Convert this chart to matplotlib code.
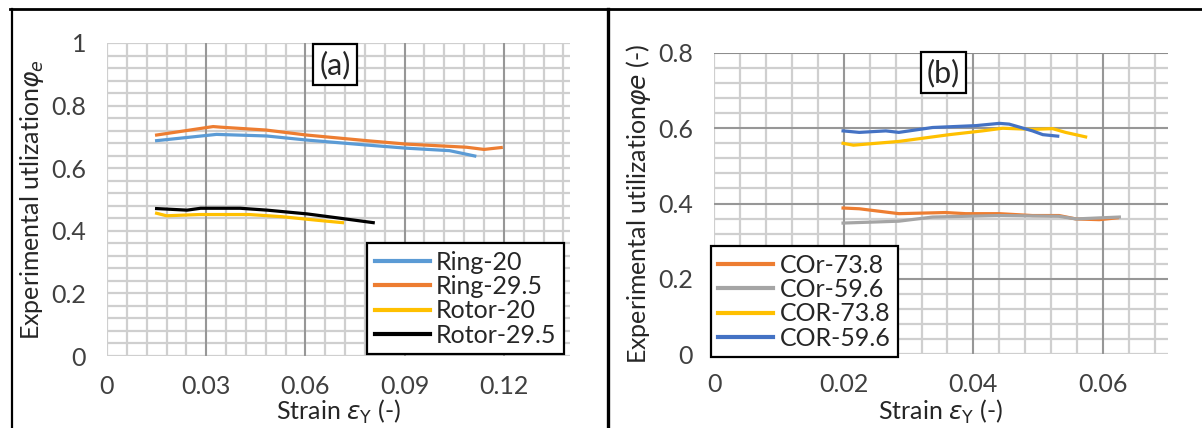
import matplotlib
matplotlib.use("Agg")
import matplotlib.pyplot as plt
from matplotlib.lines import Line2D
import numpy as np

plt.rcParams["font.family"] = ["Lato", "DejaVu Sans"]
plt.rcParams["mathtext.fontset"] = "dejavusans"

# ---------------------------------------------------------------------------
# Panel (a): ring vs rotor
# ---------------------------------------------------------------------------
ring20_x = [0.015, 0.0331, 0.0482, 0.0603, 0.0785, 0.0905, 0.1036, 0.1112]
ring20_y = [0.688, 0.708, 0.703, 0.690, 0.674, 0.664, 0.656, 0.639]

ring295_x = [0.015, 0.0321, 0.0345, 0.048, 0.0603, 0.0785, 0.0905, 0.1087, 0.114, 0.1192]
ring295_y = [0.706, 0.733, 0.731, 0.722, 0.706, 0.688, 0.677, 0.667, 0.660, 0.666]

rotor20_x = [0.015, 0.018, 0.028, 0.043, 0.053, 0.0632, 0.0712]
rotor20_y = [0.456, 0.448, 0.452, 0.452, 0.445, 0.434, 0.426]

rotor295_x = [0.015, 0.0242, 0.0283, 0.0403, 0.0484, 0.0605, 0.0706, 0.0805]
rotor295_y = [0.471, 0.466, 0.472, 0.472, 0.466, 0.454, 0.440, 0.426]

# ---------------------------------------------------------------------------
# Panel (b): COr vs COR
# ---------------------------------------------------------------------------
cor_r738_x = [0.0199, 0.0224, 0.0285, 0.0357, 0.0388, 0.044, 0.0491, 0.0532, 0.0558, 0.0594, 0.0622]
cor_r738_y = [0.388, 0.386, 0.373, 0.376, 0.373, 0.373, 0.368, 0.368, 0.359, 0.357, 0.362]

cor_r596_x = [0.0199, 0.0285, 0.0337, 0.044, 0.0532, 0.0558, 0.0625]
cor_r596_y = [0.348, 0.353, 0.364, 0.368, 0.366, 0.359, 0.364]

cor_R738_x = [0.0199, 0.0215, 0.0285, 0.0363, 0.0414, 0.0445, 0.0491, 0.0522, 0.0542, 0.0573]
cor_R738_y = [0.560, 0.555, 0.565, 0.583, 0.593, 0.600, 0.597, 0.599, 0.589, 0.577]

cor_R596_x = [0.0199, 0.0224, 0.0265, 0.0285, 0.0337, 0.0404, 0.044, 0.0455, 0.0491, 0.0507, 0.053]
cor_R596_y = [0.593, 0.589, 0.593, 0.589, 0.602, 0.607, 0.613, 0.611, 0.593, 0.583, 0.579]

BLUE = "#5B9BD5"
ORANGE = "#ED7D31"
YELLOW = "#FFC000"
GRAY = "#A5A5A5"
DBLUE = "#4472C4"
TXT = "#262626"

W, H = 1202, 428
fig = plt.figure(figsize=(W / 100, H / 100), dpi=100)


def px_axes(left, top, right, bottom):
    return fig.add_axes([left / W, 1 - bottom / H, (right - left) / W, (bottom - top) / H])


def style_grid(ax, xminor, xmajor, yminor, ymajor, dark_y):
    light = "#cfcfcf"
    dark = "#8c8c8c"
    x0, x1 = ax.get_xlim()
    y0, y1 = ax.get_ylim()
    for v in np.arange(x0, x1 + 1e-9, xminor):
        ax.axvline(v, color=light, lw=1.6, zorder=0)
    for v in np.arange(y0, y1 + 1e-9, yminor):
        ax.axhline(v, color=light, lw=1.6, zorder=0)
    for v in np.arange(x0 + xmajor, x1 + 1e-9, xmajor):
        ax.axvline(v, color=dark, lw=1.2, zorder=0.5)
    if dark_y:
        for v in np.arange(y0 + ymajor, y1 + 1e-9, ymajor):
            ax.axhline(v, color=dark, lw=1.2, zorder=0.5)
    for s in ax.spines.values():
        s.set_visible(False)
    ax.tick_params(length=0, labelsize=18, colors="#404040")
    ax.tick_params(axis="y", pad=15)
    ax.tick_params(axis="x", pad=14)


def add_legend(ax, loc, anchor):
    leg = ax.legend(loc=loc, bbox_to_anchor=anchor, borderaxespad=0,
                    fontsize=18, frameon=True, fancybox=False, handlelength=2.2,
                    labelspacing=0.05, handletextpad=0.25, borderpad=0.3)
    leg.get_frame().set_edgecolor("black")
    leg.get_frame().set_linewidth(1.6)
    leg.get_frame().set_alpha(1)
    for t in leg.get_texts():
        t.set_color(TXT)
    for ln in leg.get_lines():
        ln.set_linewidth(3)
    return leg


def add_xlabel(ax, text):
    # placed by hand so it sits just above the bottom edge like the original
    x_mid = ax.get_position().x0 + ax.get_position().width / 2
    fig.text(x_mid, 1 - 412 / H, text, fontsize=18, ha="center", va="center", color=TXT)


# ----- panel (a)
ax1 = px_axes(107, 43, 570, 356)
ax1.set_xlim(0, 0.14)
ax1.set_ylim(0, 1)
ax1.plot(ring20_x, ring20_y, color=BLUE, lw=2.3, label="Ring-20")
ax1.plot(ring295_x, ring295_y, color=ORANGE, lw=2.3, label="Ring-29.5")
ax1.plot(rotor20_x, rotor20_y, color=YELLOW, lw=2.3, label="Rotor-20")
ax1.plot(rotor295_x, rotor295_y, color="black", lw=2.3, label="Rotor-29.5")
style_grid(ax1, 0.006, 0.03, 0.04, 0.2, dark_y=False)
ax1.set_xticks([0, 0.03, 0.06, 0.09, 0.12])
ax1.set_xticklabels(["0", "0.03", "0.06", "0.09", "0.12"])
ax1.set_yticks([0, 0.2, 0.4, 0.6, 0.8, 1.0])
ax1.set_yticklabels(["0", "0.2", "0.4", "0.6", "0.8", "1"])
add_xlabel(ax1, r"Strain $\varepsilon_{\mathrm{Y}}$ (-)")
ax1.set_ylabel(r"Experimental utlization$\varphi_e$", fontsize=18, labelpad=4, color=TXT)
ax1.text(0.0689, 0.93, "(a)", fontsize=22, ha="center", va="center", color=TXT,
         bbox=dict(boxstyle="square,pad=0.2", facecolor="white", edgecolor="black", lw=1.6))
add_legend(ax1, "lower right", (0.987, 0.006))

# ----- panel (b)
ax2 = px_axes(714, 53, 1168, 354)
ax2.set_xlim(0, 0.07)
ax2.set_ylim(0, 0.8)
ax2.plot(cor_r738_x, cor_r738_y, color=ORANGE, lw=2.3, label="COr-73.8")
ax2.plot(cor_r596_x, cor_r596_y, color=GRAY, lw=2.3, label="COr-59.6")
ax2.plot(cor_R738_x, cor_R738_y, color=YELLOW, lw=2.3, label="COR-73.8")
ax2.plot(cor_R596_x, cor_R596_y, color=DBLUE, lw=2.3, label="COR-59.6")
style_grid(ax2, 0.004, 0.02, 0.04, 0.2, dark_y=True)
ax2.axhline(0.8, color="#8c8c8c", lw=1.2, zorder=0.5)
ax2.set_xticks([0, 0.02, 0.04, 0.06])
ax2.set_xticklabels(["0", "0.02", "0.04", "0.06"])
ax2.set_yticks([0, 0.2, 0.4, 0.6, 0.8])
ax2.set_yticklabels(["0", "0.2", "0.4", "0.6", "0.8"])
add_xlabel(ax2, r"Strain $\varepsilon_{\mathrm{Y}}$ (-)")
ax2.set_ylabel(r"Experimental utilization$\varphi e$ (-)", fontsize=18, labelpad=4, color=TXT)
ax2.text(0.0354, 0.747, "(b)", fontsize=22, ha="center", va="center", color=TXT,
         bbox=dict(boxstyle="square,pad=0.2", facecolor="white", edgecolor="black", lw=1.6))
add_legend(ax2, "lower left", (-0.007, -0.01))

# outer frame lines
fig.add_artist(Line2D([10 / W, 1], [1 - 9 / H] * 2, color="black", lw=2))
fig.add_artist(Line2D([12 / W] * 2, [0, 1 - 9 / H], color="black", lw=1.6))
fig.add_artist(Line2D([608 / W] * 2, [0, 1 - 9 / H], color="black", lw=2.4))

fig.savefig("out.png", dpi=100, facecolor="white")
